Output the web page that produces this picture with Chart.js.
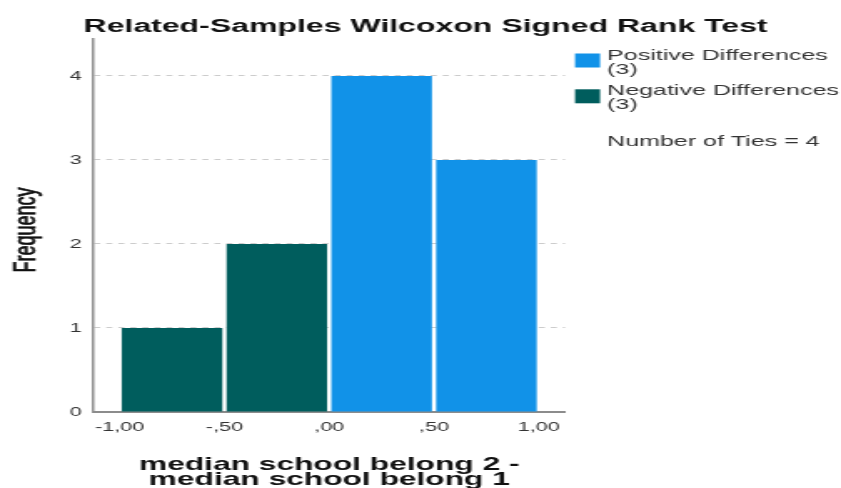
<!DOCTYPE html>
<html>
<head>
<meta charset="utf-8">
<script src="https://cdn.jsdelivr.net/npm/chart.js@4/dist/chart.umd.min.js"></script>
<style>
  html, body { margin: 0; padding: 0; background: #fff; overflow: hidden; }
</style>
</head>
<body>
<canvas id="c" width="504" height="488" style="width:841px;height:488px;display:block"></canvas>
<script>
// Text
const chartTitle = 'Related-Samples Wilcoxon Signed Rank Test';
const xTitleLines = ['median school belong 2 -', 'median school belong 1'];
const yTitle = 'Frequency';

// Histogram bins (centre of each 0.5-wide bin) and their frequencies
const negativeBins = [-0.75, -0.25];
const negativeFreq = [1, 2];
const positiveBins = [0.25, 0.75];
const positiveFreq = [4, 3];

// Axis ticks
const xTickValues = [-1, -0.5, 0, 0.5, 1];
const xTickLabels = ['-1,00', '-,50', ',00', ',50', '1,00'];
const yTickValues = [0, 1, 2, 3, 4];

// Legend
const legendNames = ['Positive Differences', 'Negative Differences'];
const legendCounts = ['(3)', '(3)'];
const tiesNote = 'Number of Ties = 4';

const POS_COLOR = '#1192e8';
const NEG_COLOR = '#005d5d';
const FONT = '"Liberation Sans", Arial, Helvetica, sans-serif';

const toPoints = (xs, ys) => xs.map((x, i) => ({ x: x, y: ys[i] }));

const textPlugin = {
  id: 'textPlugin',
  afterDraw(chart) {
    const ctx = chart.ctx;
    const area = chart.chartArea;
    ctx.save();

    // chart title
    ctx.fillStyle = '#111';
    ctx.textAlign = 'center';
    ctx.textBaseline = 'alphabetic';
    ctx.font = 'bold 19.2px ' + FONT;
    ctx.fillText(chartTitle, chart.width / 2 + 3, 32);

    // x axis title (two lines, centred under the plot)
    const cx = (area.left + area.right) / 2;
    ctx.font = 'bold 19px ' + FONT;
    xTitleLines.forEach((t, i) => ctx.fillText(t, cx, 470 + i * 15));

    // y axis title, slightly heavier than the regular face
    ctx.save();
    ctx.translate(20.5, 230);
    ctx.rotate(-Math.PI / 2);
    ctx.font = '18px ' + FONT;
    ctx.strokeStyle = '#111';
    ctx.lineWidth = 0.6;
    ctx.fillText(yTitle, 0, 0);
    ctx.strokeText(yTitle, 0, 0);
    ctx.restore();

    // legend
    const colors = [POS_COLOR, NEG_COLOR];
    const boxTops = [53.5, 89.3];
    ctx.textAlign = 'left';
    ctx.font = '15px ' + FONT;
    legendNames.forEach((name, i) => {
      ctx.fillStyle = colors[i];
      ctx.fillRect(344.6, boxTops[i], 15, 14);
      ctx.fillStyle = '#333';
      ctx.fillText(name, 363.8, boxTops[i] + 6);
      ctx.fillText(legendCounts[i], 363.8, boxTops[i] + 20);
    });
    ctx.fillText(tiesNote, 363.8, 146);

    ctx.restore();
  }
};

new Chart(document.getElementById('c'), {
  type: 'bar',
  data: {
    datasets: [
      {
        label: legendNames[0],
        data: toPoints(positiveBins, positiveFreq),
        backgroundColor: POS_COLOR
      },
      {
        label: legendNames[1],
        data: toPoints(negativeBins, negativeFreq),
        backgroundColor: NEG_COLOR
      }
    ]
  },
  options: {
    responsive: false,
    animation: false,
    devicePixelRatio: 1,
    layout: { padding: { left: 0, right: 165.4, top: 39, bottom: 0 } },
    datasets: {
      bar: { grouped: false, barPercentage: 0.96, categoryPercentage: 1, borderWidth: 0 }
    },
    plugins: {
      legend: { display: false },
      tooltip: { enabled: false }
    },
    scales: {
      x: {
        type: 'linear',
        offset: false,
        min: -1.125,
        max: 1.125,
        afterBuildTicks: s => { s.ticks = xTickValues.map(v => ({ value: v })); },
        afterFit: s => { s.height = 76; },
        ticks: {
          callback: v => xTickLabels[xTickValues.indexOf(v)],
          autoSkip: false,
          maxRotation: 0,
          padding: 8,
          color: '#333',
          font: { family: FONT, size: 13 }
        },
        grid: { display: false, drawTicks: false, offset: false },
        border: { display: true, color: '#8c8c8c', width: 2 }
      },
      y: {
        min: 0,
        max: 4.44,
        afterBuildTicks: s => { s.ticks = yTickValues.map(v => ({ value: v })); },
        afterFit: s => { s.width = 56; },
        ticks: {
          padding: 7,
          color: '#333',
          font: { family: FONT, size: 13 }
        },
        grid: { color: '#cccccc', lineWidth: 1, drawTicks: false },
        border: { display: true, color: '#8c8c8c', width: 1.5, dash: [3.6, 3.6] }
      }
    }
  },
  plugins: [textPlugin]
});
</script>
</body>
</html>
